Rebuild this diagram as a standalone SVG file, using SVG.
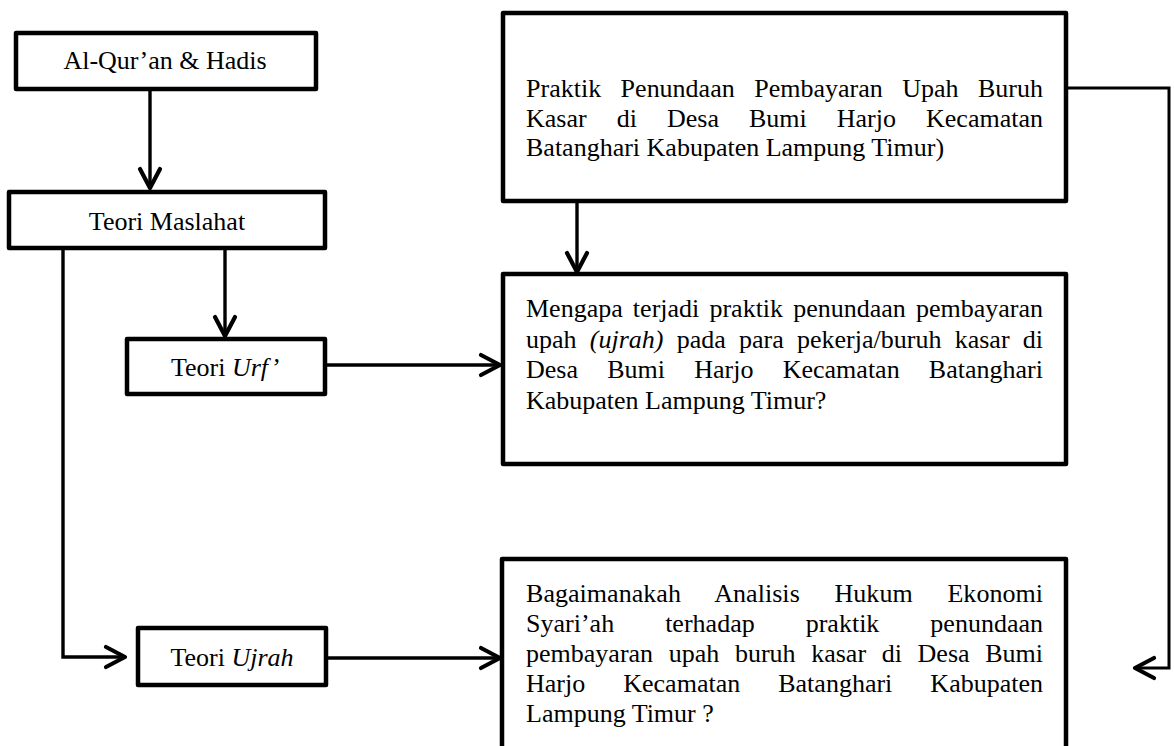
<svg xmlns="http://www.w3.org/2000/svg" width="1174" height="746" viewBox="0 0 1174 746">
<style>
  .box { fill: #ffffff; stroke: #000000; stroke-width: 4.5; stroke-linejoin: round; }
  .t { font-family: "Liberation Serif", "Times New Roman", serif; font-size: 26px; fill: #000000; }
  .c { text-anchor: middle; }
  .i { font-style: italic; }
  .edge { fill: none; stroke: #000000; stroke-width: 3.4; stroke-linejoin: miter; marker-end: url(#arrow); }
  .thin { stroke-width: 3; }
</style>
<defs>
  <marker id="arrow" markerUnits="userSpaceOnUse" viewBox="-24 -14 28 28" refX="0" refY="0" markerWidth="28" markerHeight="28" orient="auto" overflow="visible">
    <path d="M-19,-10 L0,0 L-19,10" fill="none" stroke="#000000" stroke-width="4.2" stroke-linecap="round" stroke-linejoin="round"/>
  </marker>
</defs>
<rect width="1174" height="746" fill="#ffffff"/>

<g id="connectors">
  <path class="edge" d="M150,89 L150,188"/>
  <path class="edge" d="M225,248 L225,336"/>
  <path class="edge" d="M63,248 L63,657 L125,657"/>
  <path class="edge" d="M325,365 L500,365"/>
  <path class="edge" d="M326,658 L500,658"/>
  <path class="edge" d="M577,201 L577,272"/>
  <path class="edge thin" d="M1066,88 L1169,88 L1169,668 L1135,668"/>
</g>

<g id="node-quran">
  <rect class="box" x="16" y="33" width="300" height="56"/>
  <text class="t c" x="165" y="69">Al-Qur’an &amp; Hadis</text>
</g>

<g id="node-maslahat">
  <rect class="box" x="9" y="192" width="316" height="56"/>
  <text class="t c" x="167" y="230">Teori Maslahat</text>
</g>

<g id="node-urf">
  <rect class="box" x="127" y="339" width="198" height="55"/>
  <text class="t c" x="225" y="376">Teori <tspan class="i">Urf’</tspan></text>
</g>

<g id="node-ujrah">
  <rect class="box" x="138" y="628" width="188" height="57"/>
  <text class="t c" x="232" y="666">Teori <tspan class="i">Ujrah</tspan></text>
</g>

<g id="node-praktik">
  <rect class="box" x="503" y="13" width="563" height="188"/>
  <text class="t" x="526" y="97" word-spacing="13" textLength="517" lengthAdjust="spacing">Praktik Penundaan Pembayaran Upah Buruh</text>
  <text class="t" x="526" y="127" word-spacing="23.5" textLength="517" lengthAdjust="spacing">Kasar di Desa Bumi Harjo Kecamatan</text>
  <text class="t" x="526" y="156">Batanghari Kabupaten Lampung Timur)</text>
</g>

<g id="node-mengapa">
  <rect class="box" x="503" y="274" width="563" height="190"/>
  <text class="t" x="526" y="317" word-spacing="3.6" textLength="517" lengthAdjust="spacing">Mengapa terjadi praktik penundaan pembayaran</text>
  <text class="t" x="526" y="348" word-spacing="6.7" textLength="517" lengthAdjust="spacing">upah <tspan class="i">(ujrah)</tspan> pada para pekerja/buruh kasar di</text>
  <text class="t" x="526" y="378" word-spacing="22.7" textLength="517" lengthAdjust="spacing">Desa Bumi Harjo Kecamatan Batanghari</text>
  <text class="t" x="526" y="409">Kabupaten Lampung Timur?</text>
</g>

<g id="node-bagaimanakah">
  <rect class="box" x="502" y="559" width="564" height="210"/>
  <text class="t" x="526" y="602" word-spacing="28.2" textLength="517" lengthAdjust="spacing">Bagaimanakah Analisis Hukum Ekonomi</text>
  <text class="t" x="526" y="632" word-spacing="44.5" textLength="517" lengthAdjust="spacing">Syari’ah terhadap praktik penundaan</text>
  <text class="t" x="526" y="662" word-spacing="9.1" textLength="517" lengthAdjust="spacing">pembayaran upah buruh kasar di Desa Bumi</text>
  <text class="t" x="526" y="692" word-spacing="31.5" textLength="517" lengthAdjust="spacing">Harjo Kecamatan Batanghari Kabupaten</text>
  <text class="t" x="526" y="722">Lampung Timur ?</text>
</g>
</svg>
